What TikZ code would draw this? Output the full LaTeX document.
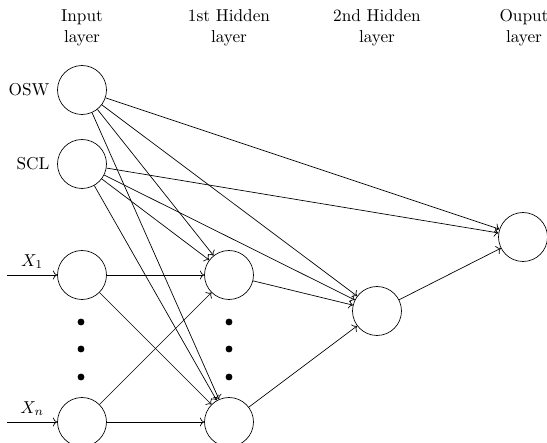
\documentclass[tikz,border=0pt]{standalone}
\usetikzlibrary{arrows.meta}
\begin{document}
\begin{tikzpicture}[x=0.58pt,y=-0.58pt,
  neuron/.style={circle,draw,thin,minimum size=28.4pt,inner sep=0pt},
  conn/.style={->,thin},
  dotm/.style={circle,fill,inner sep=0pt,minimum size=4pt},
  head/.style={align=center,font=\normalsize}]
\useasboundingbox (0,0) rectangle (547,443);
% headers
\node[head] (hin) at (82,28) {Input\\layer};
\node[head] (hh1) at (229,28) {1st Hidden\\layer};
\node[head] (hh2) at (377,28) {2nd Hidden\\layer};
\node[head] (hout) at (524,28) {Ouput\\layer};
% input layer
\node[neuron] (osw) at (82,90) {};
\node[neuron] (scl) at (82,164) {};
\node[neuron] (x1) at (82,275) {};
\node[neuron] (xn) at (82,422) {};
\node[left=1pt] (losw) at (osw.west) {OSW};
\node[left=1pt] (lscl) at (scl.west) {SCL};
% hidden 1
\node[neuron] (ha) at (229,275) {};
\node[neuron] (hb) at (229,422) {};
% hidden 2
\node[neuron] (h2) at (377,311) {};
% output
\node[neuron] (out) at (523,237) {};
% dots
\node[dotm] (d1) at (81,322) {};
\node[dotm] (d2) at (81,349) {};
\node[dotm] (d3) at (81,377) {};
\node[dotm] (e1) at (229,322) {};
\node[dotm] (e2) at (229,349) {};
\node[dotm] (e3) at (229,377) {};
% inputs
\coordinate (in1) at (7,275);
\coordinate (inn) at (7,422);
\draw[conn] (in1) -- node[above] (lx1) {$X_1$} (x1);
\draw[conn] (inn) -- node[above] (lxn) {$X_n$} (xn);
% connections
\foreach \s in {osw,scl} {
  \draw[conn] (\s) -- (ha);
  \draw[conn] (\s) -- (hb);
  \draw[conn] (\s) -- (h2);
  \draw[conn] (\s) -- (out);
}
\foreach \s in {x1,xn} {
  \draw[conn] (\s) -- (ha);
  \draw[conn] (\s) -- (hb);
}
\draw[conn] (ha) -- (h2);
\draw[conn] (hb) -- (h2);
\draw[conn] (h2) -- (out);
\end{tikzpicture}
\end{document}
